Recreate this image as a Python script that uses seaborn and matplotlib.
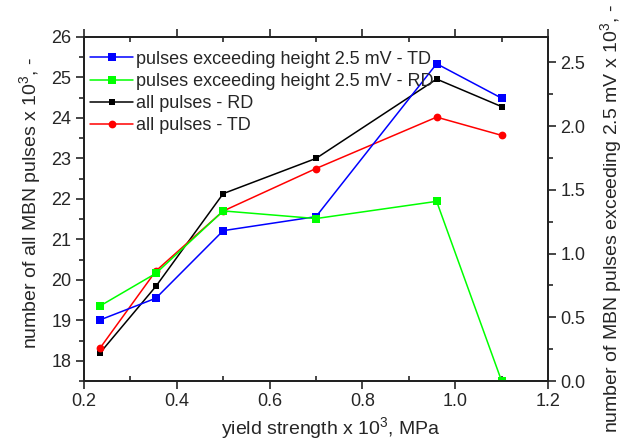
import matplotlib
matplotlib.use("Agg")
import matplotlib.pyplot as plt
import seaborn as sns
from matplotlib.ticker import MultipleLocator, FormatStrFormatter

yield_strength = [0.235, 0.355, 0.5, 0.7, 0.96, 1.1]
all_pulses_rd = [18.2, 19.84, 22.13, 23.0, 24.96, 24.28]
all_pulses_td = [18.32, 20.22, 21.7, 22.75, 24.02, 23.57]
exceed_td = [0.48, 0.65, 1.18, 1.29, 2.49, 2.22]
exceed_rd = [0.59, 0.845, 1.335, 1.275, 1.41, 0.0]

labels = ["pulses exceeding height 2.5 mV - TD",
          "pulses exceeding height 2.5 mV - RD",
          "all pulses - RD",
          "all pulses - TD"]

sns.set_style("ticks")
plt.rcParams["font.family"] = ["Liberation Sans", "DejaVu Sans"]
plt.rcParams["font.size"] = 13
plt.rcParams["mathtext.fontset"] = "custom"
plt.rcParams["mathtext.rm"] = "Liberation Sans"
plt.rcParams["mathtext.it"] = "Liberation Sans:italic"
plt.rcParams["mathtext.bf"] = "Liberation Sans:bold"

fig = plt.figure(figsize=(6.3, 4.45), dpi=100)
ax = fig.add_axes([84/630, 1-381/445, (548-84)/630, (381-37)/445])
ax2 = ax.twinx()

lw = 1.1
sns.lineplot(x=yield_strength, y=all_pulses_rd, ax=ax, color="black", marker="s",
             markersize=4.8, markeredgewidth=0, linewidth=lw, label=labels[2], legend=False)
sns.lineplot(x=yield_strength, y=all_pulses_td, ax=ax, color="#ff0000", marker="o",
             markersize=5.6, markeredgewidth=0, linewidth=lw, label=labels[3], legend=False)
sns.lineplot(x=yield_strength, y=exceed_td, ax=ax2, color="#0000ff", marker="s",
             markersize=5.4, markeredgewidth=0, linewidth=lw, label=labels[0], legend=False)
sns.lineplot(x=yield_strength, y=exceed_rd, ax=ax2, color="#00ff00", marker="s",
             markersize=5.4, markeredgewidth=0, linewidth=lw, label=labels[1], legend=False)

ax.set_xlim(0.2, 1.2)
ax.set_ylim(17.5, 26)
ax2.set_ylim(0, 2.7)

ax.xaxis.set_major_locator(MultipleLocator(0.2))
ax.xaxis.set_minor_locator(MultipleLocator(0.1))
ax.yaxis.set_major_locator(MultipleLocator(1))
ax.yaxis.set_minor_locator(MultipleLocator(0.5))
ax2.yaxis.set_major_locator(MultipleLocator(0.5))
ax2.yaxis.set_minor_locator(MultipleLocator(0.25))
ax.xaxis.set_major_formatter(FormatStrFormatter("%.1f"))
ax2.yaxis.set_major_formatter(FormatStrFormatter("%.1f"))

for a in (ax, ax2):
    for s in a.spines.values():
        s.set_visible(True)
        s.set_linewidth(1.4)
        s.set_color("#222222")

ax.tick_params(axis="both", which="major", direction="out", length=6, width=1.2,
               labelsize=13, top=True, pad=3)
ax.tick_params(axis="y", which="minor", direction="out", length=3.5, width=1.2)
ax.tick_params(axis="x", which="minor", direction="in", length=3.5, width=1.2, top=True)
ax2.tick_params(axis="y", which="major", direction="out", length=6, width=1.2, labelsize=13, pad=3)
ax2.tick_params(axis="y", which="minor", direction="out", length=3.5, width=1.2)

ax.set_xlabel("yield strength x 10$^3$, MPa", fontsize=14)
ax.set_ylabel("number of all MBN pulses x 10$^3$, -", fontsize=14)
ax2.set_ylabel("number of MBN pulses exceeding 2.5 mV x 10$^3$, -", fontsize=14)
ax.xaxis.set_label_coords(0.531, -0.100)
ax.yaxis.set_label_coords(-0.0885, 0.519)
ax2.yaxis.set_label_coords(1.108, 0.471)

h1, l1 = ax.get_legend_handles_labels()
h2, l2 = ax2.get_legend_handles_labels()
hd = dict(zip(l1 + l2, h1 + h2))
ax2.legend([hd[l] for l in labels], labels, loc="upper left",
           bbox_to_anchor=(0.005, 0.9706), frameon=False,
           fontsize=13, handlelength=2.4, handletextpad=0.15, labelspacing=0.285,
           borderaxespad=0.0, borderpad=0.2)

fig.savefig("out.png", dpi=100)
